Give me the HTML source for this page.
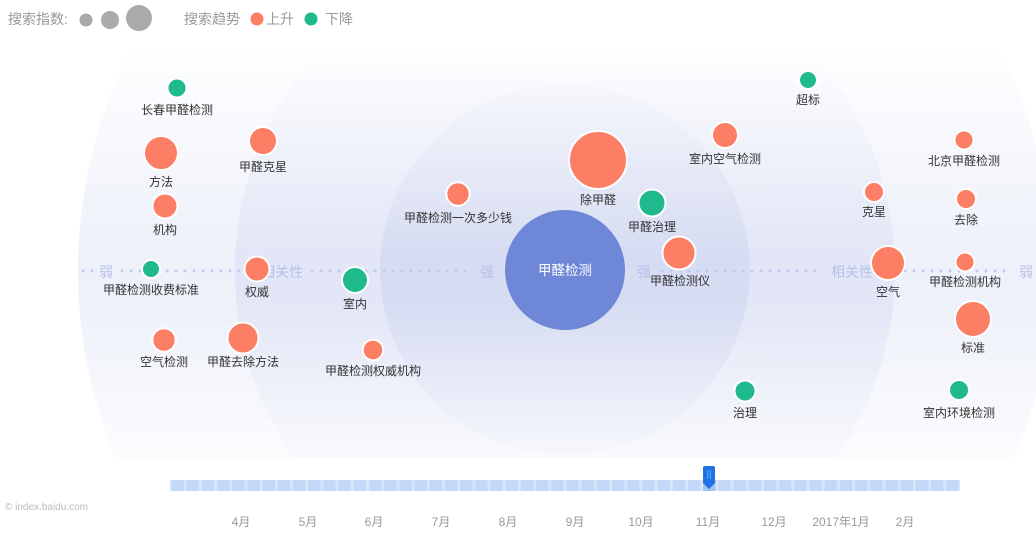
<!DOCTYPE html>
<html><head><meta charset="utf-8"><style>
html,body{margin:0;padding:0;background:#fff;width:1036px;height:539px;overflow:hidden;}
svg{display:block;font-family:"Liberation Sans","Noto Sans CJK SC",sans-serif;}
</style></head><body>
<svg width="1036" height="539" viewBox="0 0 1036 539" xmlns="http://www.w3.org/2000/svg">
<defs>
<clipPath id="bgc"><rect x="0" y="48" width="1036" height="410"/></clipPath>
<linearGradient id="fade" x1="0" y1="48" x2="0" y2="458" gradientUnits="userSpaceOnUse">
<stop offset="0" stop-color="#fff" stop-opacity="1"/>
<stop offset="0.08" stop-color="#fff" stop-opacity="0.8"/>
<stop offset="0.5" stop-color="#fff" stop-opacity="0"/>
<stop offset="0.62" stop-color="#fff" stop-opacity="0"/>
<stop offset="1" stop-color="#fff" stop-opacity="0.8"/>
</linearGradient>
<pattern id="segp" x="170" y="480" width="15.1923" height="11" patternUnits="userSpaceOnUse">
<rect x="1.5" y="0" width="12.19" height="11" fill="#c4d9f8"/>
</pattern>
</defs>
<!-- background rings -->
<g clip-path="url(#bgc)">
<circle cx="565" cy="270" r="487" fill="#eef1fa"/>
<circle cx="565" cy="270" r="330" fill="#e2e6f6"/>
<circle cx="565" cy="270" r="185" fill="#d6dcf2"/>
<rect x="0" y="48" width="1036" height="410" fill="url(#fade)"/>
</g>
<!-- dotted axis -->
<g stroke="#c0c9ee" stroke-width="3" stroke-linecap="round" stroke-dasharray="0 9" fill="none">
<line x1="83" y1="271" x2="94" y2="271"/>
<line x1="122" y1="271" x2="244" y2="271"/>
<line x1="312" y1="271" x2="470" y2="271"/>
<line x1="662" y1="271" x2="822" y2="271"/>
<line x1="905" y1="271" x2="1013" y2="271"/>
</g>
<g fill="#b6c1ea" font-size="14" text-anchor="middle">
<text x="106" y="277">弱</text>
<text x="282" y="277">相关性</text>
<text x="487" y="277">强</text>
<text x="644" y="277">强</text>
<text x="852" y="277">相关性</text>
<text x="1026" y="277">弱</text>
</g>
<!-- center -->
<circle cx="565" cy="270" r="60" fill="#6e87d6"/>
<text x="565" y="275" fill="#fff" font-size="13.5" text-anchor="middle">甲醛检测</text>
<!-- bubbles -->
<g stroke="#fff" stroke-width="2">
<circle cx="177" cy="88" r="9.5" fill="#1fb98d"/>
<circle cx="263" cy="141" r="14" fill="#fc7e64"/>
<circle cx="161" cy="153" r="17" fill="#fc7e64"/>
<circle cx="165" cy="206" r="12.5" fill="#fc7e64"/>
<circle cx="151" cy="269" r="9" fill="#1fb98d"/>
<circle cx="257" cy="269" r="12.5" fill="#fc7e64"/>
<circle cx="355" cy="280" r="13" fill="#1fb98d"/>
<circle cx="164" cy="340" r="11.7" fill="#fc7e64"/>
<circle cx="243" cy="338" r="15.5" fill="#fc7e64"/>
<circle cx="373" cy="350" r="10.3" fill="#fc7e64"/>
<circle cx="458" cy="194" r="11.7" fill="#fc7e64"/>
<circle cx="598" cy="160" r="29" fill="#fc7e64"/>
<circle cx="652" cy="203" r="13.5" fill="#1fb98d"/>
<circle cx="679" cy="253" r="16.5" fill="#fc7e64"/>
<circle cx="725" cy="135" r="13" fill="#fc7e64"/>
<circle cx="808" cy="80" r="9" fill="#1fb98d"/>
<circle cx="964" cy="140" r="9.5" fill="#fc7e64"/>
<circle cx="874" cy="192" r="10" fill="#fc7e64"/>
<circle cx="966" cy="199" r="10" fill="#fc7e64"/>
<circle cx="888" cy="263" r="17" fill="#fc7e64"/>
<circle cx="965" cy="262" r="9.5" fill="#fc7e64"/>
<circle cx="973" cy="319" r="18" fill="#fc7e64"/>
<circle cx="745" cy="391" r="10.5" fill="#1fb98d"/>
<circle cx="959" cy="390" r="10" fill="#1fb98d"/>
</g>
<g fill="#333" font-size="12" text-anchor="middle">
<text x="177" y="114">长春甲醛检测</text>
<text x="263" y="171">甲醛克星</text>
<text x="161" y="186">方法</text>
<text x="165" y="234">机构</text>
<text x="151" y="294">甲醛检测收费标准</text>
<text x="257" y="296">权威</text>
<text x="355" y="308">室内</text>
<text x="164" y="366">空气检测</text>
<text x="243" y="366">甲醛去除方法</text>
<text x="373" y="375">甲醛检测权威机构</text>
<text x="458" y="222">甲醛检测一次多少钱</text>
<text x="598" y="204">除甲醛</text>
<text x="652" y="231">甲醛治理</text>
<text x="680" y="285">甲醛检测仪</text>
<text x="725" y="163">室内空气检测</text>
<text x="808" y="104">超标</text>
<text x="964" y="165">北京甲醛检测</text>
<text x="874" y="216">克星</text>
<text x="966" y="224">去除</text>
<text x="888" y="296">空气</text>
<text x="965" y="286">甲醛检测机构</text>
<text x="973" y="352">标准</text>
<text x="745" y="417">治理</text>
<text x="959" y="417">室内环境检测</text>
</g>
<!-- legend -->
<g font-size="14" fill="#999">
<text x="8" y="24">搜索指数:</text>
<text x="184" y="24">搜索趋势</text>
<text x="266" y="24">上升</text>
<text x="325" y="24">下降</text>
</g>
<circle cx="86" cy="20" r="6.5" fill="#aaa"/>
<circle cx="110" cy="20" r="9" fill="#aaa"/>
<circle cx="139" cy="18" r="13" fill="#aaa"/>
<circle cx="257" cy="19" r="6.5" fill="#fc7e64"/>
<circle cx="311" cy="19" r="6.5" fill="#1fb98d"/>
<!-- timeline -->
<rect x="170" y="480" width="790" height="11" fill="#d8e6fb"/>
<rect x="170" y="480" width="790" height="11" fill="url(#segp)"/>
<rect x="703.2" y="480" width="12.2" height="11" fill="#9fc1f3"/>
<!-- watermark -->
<text x="5" y="510" font-size="10" fill="#bbb">© index.baidu.com</text>
<g font-size="12" fill="#999" text-anchor="middle">
<text x="241" y="526">4月</text>
<text x="308" y="526">5月</text>
<text x="374" y="526">6月</text>
<text x="441" y="526">7月</text>
<text x="508" y="526">8月</text>
<text x="575" y="526">9月</text>
<text x="641" y="526">10月</text>
<text x="708" y="526">11月</text>
<text x="774" y="526">12月</text>
<text x="841" y="526">2017年1月</text>
<text x="905" y="526">2月</text>
</g>
<path d="M705 466 h8 a2 2 0 0 1 2 2 v15 l-6 6 l-6 -6 v-15 a2 2 0 0 1 2 -2z" fill="#1e72e6"/>
<line x1="707.8" y1="470" x2="707.8" y2="479" stroke="#5ec8f5" stroke-width="0.8"/>
<line x1="710.2" y1="470" x2="710.2" y2="479" stroke="#5ec8f5" stroke-width="0.8"/>
</svg>
</body></html>
